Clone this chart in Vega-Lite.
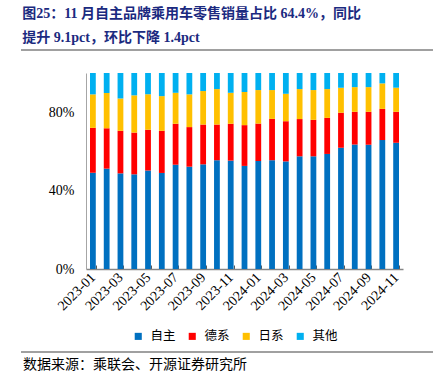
{
  "$schema": "https://vega.github.io/schema/vega-lite/v6.json",
  "padding": {"top": 7, "left": 20, "right": 4, "bottom": 0},
  "background": "white",
  "width": 317,
  "height": 196,
  "config": {"view": {"stroke": null}},
  "title": {
    "text": ["图25：11 月自主品牌乘用车零售销量占比 64.4%，同比", "提升 9.1pct，环比下降 1.4pct"],
    "orient": "top",
    "anchor": "start",
    "frame": "bounds",
    "font": "Liberation Serif, Noto Sans CJK SC",
    "fontSize": 14,
    "fontWeight": "bold",
    "color": "#1b2a80",
    "lineHeight": 24,
    "offset": 4,
    "dx": 2
  },
  "resolve": {"scale": {"x": "independent"}},
  "data": {
    "values": [
      {"month": "2023-01", "自主": 49.1, "德系": 22.9, "日系": 17.1, "其他": 10.9},
      {"month": "2023-02", "自主": 51.2, "德系": 20.6, "日系": 18.0, "其他": 10.2},
      {"month": "2023-03", "自主": 48.8, "德系": 21.7, "日系": 16.5, "其他": 13.0},
      {"month": "2023-04", "自主": 48.3, "德系": 21.3, "日系": 19.0, "其他": 11.4},
      {"month": "2023-05", "自主": 50.2, "德系": 20.8, "日系": 18.1, "其他": 10.9},
      {"month": "2023-06", "自主": 49.0, "德系": 21.5, "日系": 17.7, "其他": 11.8},
      {"month": "2023-07", "自主": 53.2, "德系": 20.9, "日系": 15.8, "其他": 10.1},
      {"month": "2023-08", "自主": 52.2, "德系": 20.2, "日系": 16.7, "其他": 10.9},
      {"month": "2023-09", "自主": 53.4, "德系": 20.3, "日系": 17.1, "其他": 9.2},
      {"month": "2023-10", "自主": 55.5, "德系": 18.2, "日系": 18.1, "其他": 8.2},
      {"month": "2023-11", "自主": 55.3, "德系": 18.8, "日系": 15.8, "其他": 10.1},
      {"month": "2023-12", "自主": 52.6, "德系": 20.8, "日系": 16.9, "其他": 9.7},
      {"month": "2024-01", "自主": 55.1, "德系": 19.1, "日系": 17.1, "其他": 8.7},
      {"month": "2024-02", "自主": 55.5, "德系": 21.1, "日系": 14.7, "其他": 8.7},
      {"month": "2024-03", "自主": 54.9, "德系": 20.5, "日系": 14.0, "其他": 10.6},
      {"month": "2024-04", "自主": 57.5, "德系": 19.0, "日系": 15.3, "其他": 8.2},
      {"month": "2024-05", "自主": 57.5, "德系": 18.6, "日系": 15.2, "其他": 8.7},
      {"month": "2024-06", "自主": 58.7, "德系": 18.4, "日系": 14.7, "其他": 8.2},
      {"month": "2024-07", "自主": 61.8, "德系": 17.9, "日系": 12.8, "其他": 7.5},
      {"month": "2024-08", "自主": 63.5, "德系": 16.7, "日系": 12.6, "其他": 7.2},
      {"month": "2024-09", "自主": 63.4, "德系": 16.8, "日系": 12.6, "其他": 7.2},
      {"month": "2024-10", "自主": 65.8, "德系": 15.9, "日系": 13.0, "其他": 5.3},
      {"month": "2024-11", "自主": 64.4, "德系": 15.8, "日系": 12.3, "其他": 7.5}
    ]
  },
  "layer": [
    {
      "transform": [
        {"fold": ["自主", "德系", "日系", "其他"], "as": ["series", "value"]},
        {
          "lookup": "series",
          "from": {
            "data": {"values": [
              {"series": "自主", "rank": 1},
              {"series": "德系", "rank": 2},
              {"series": "日系", "rank": 3},
              {"series": "其他", "rank": 4}
            ]},
            "key": "series",
            "fields": ["rank"]
          }
        }
      ],
      "mark": {"type": "bar"},
      "encoding": {
        "x": {
          "field": "month",
          "type": "nominal",
          "sort": null,
          "scale": {"paddingInner": 0.58, "paddingOuter": 0.29},
          "axis": {
            "title": null,
            "values": ["2023-01", "2023-03", "2023-05", "2023-07", "2023-09", "2023-11", "2024-01", "2024-03", "2024-05", "2024-07", "2024-09", "2024-11"],
            "labelAngle": -45,
            "labelAlign": "right",
            "labelBaseline": "middle",
            "labelFont": "Liberation Serif",
            "labelFontSize": 14,
            "labelColor": "#000000",
            "labelPadding": 10,
            "tickBand": "extent",
            "tickSize": -4,
            "tickColor": "#595959",
            "domainColor": "#868686",
            "domainWidth": 1.5
          }
        },
        "y": {
          "field": "value",
          "type": "quantitative",
          "stack": "zero",
          "scale": {"domain": [0, 100], "nice": false, "zero": false},
          "axis": {
            "title": null,
            "values": [0, 10, 20, 30, 40, 50, 60, 70, 80, 90, 100],
            "labelExpr": "datum.value + '%'",
            "labelFont": "Liberation Serif",
            "labelFontSize": 14,
            "labelColor": "#000000",
            "labelPadding": 12,
            "ticks": false,
            "grid": false,
            "domainColor": "#a6a6a6",
            "domainWidth": 1
          }
        },
        "color": {
          "field": "series",
          "type": "nominal",
          "sort": ["自主", "德系", "日系", "其他"],
          "scale": {
            "domain": ["自主", "德系", "日系", "其他"],
            "range": ["#0070C0", "#FF0000", "#FFC000", "#00B0F0"]
          },
          "legend": {
            "title": null,
            "orient": "none",
            "direction": "horizontal",
            "legendX": 46,
            "legendY": 257,
            "symbolType": "square",
            "symbolSize": 50,
            "symbolStrokeWidth": 0,
            "labelFont": "Noto Sans CJK SC",
            "labelFontSize": 12.5,
            "labelColor": "#000000",
            "labelOffset": 6,
            "columnPadding": 10,
            "padding": 0
          }
        },
        "order": {"field": "rank", "type": "quantitative", "sort": "ascending"}
      }
    },
    {
      "data": {"values": [{"x0": -0.205, "x1": 1.0946, "yv": 111.7}, {"x0": -0.205, "x1": 1.0946, "yv": -42.3}]},
      "mark": {"type": "rule", "color": "#808080", "strokeWidth": 1.5},
      "encoding": {
        "x": {"field": "x0", "type": "quantitative", "scale": {"domain": [0, 1], "nice": false, "zero": false}, "axis": null},
        "x2": {"field": "x1"},
        "y": {"field": "yv", "type": "quantitative"}
      }
    },
    {
      "data": {"values": [{"t": "数据来源：乘联会、开源证券研究所", "xs": -0.199, "ys": -49.0}]},
      "mark": {"type": "text", "align": "left", "baseline": "middle", "font": "Noto Sans CJK SC", "fontSize": 14, "color": "#000000"},
      "encoding": {
        "text": {"field": "t"},
        "x": {"field": "xs", "type": "quantitative", "scale": {"domain": [0, 1], "nice": false, "zero": false}, "axis": null},
        "y": {"field": "ys", "type": "quantitative"}
      }
    }
  ]
}
